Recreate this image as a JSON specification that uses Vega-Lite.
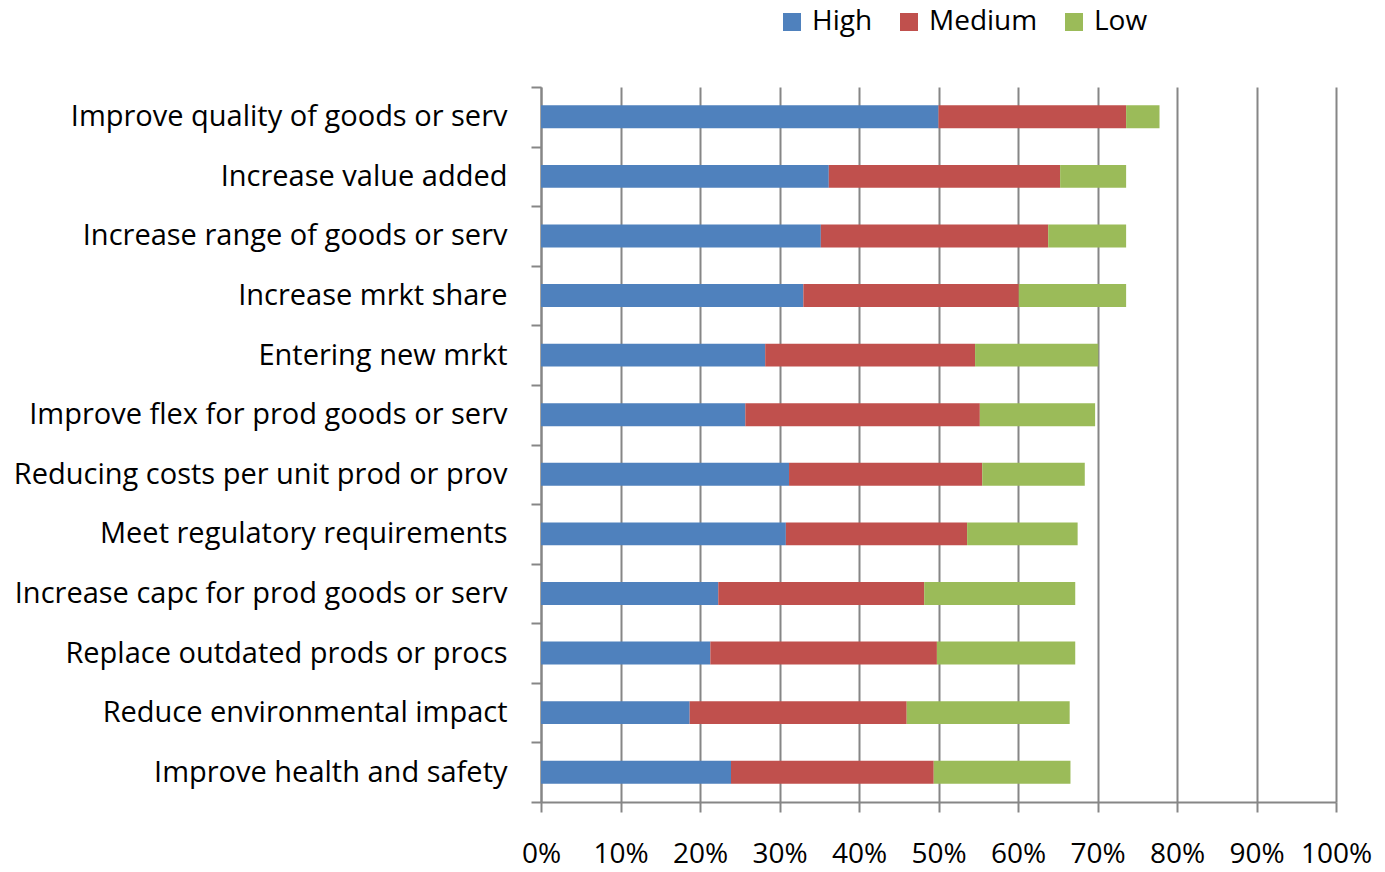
{
  "$schema": "https://vega.github.io/schema/vega-lite/v6.json",
  "autosize": "none",
  "width": 795,
  "height": 715,
  "padding": {"left": 541, "top": 87, "right": 49, "bottom": 70},
  "background": "white",
  "config": {
    "view": {"stroke": null},
    "font": "Open Sans",
    "axis": {"labelFont": "Open Sans", "labelColor": "#000000"},
    "legend": {"labelFont": "Open Sans", "labelColor": "#000000"}
  },
  "data": {
    "values": [
      {"objective": "Improve quality of goods or serv", "level": "High", "pct": 50.0},
      {"objective": "Improve quality of goods or serv", "level": "Medium", "pct": 23.6},
      {"objective": "Improve quality of goods or serv", "level": "Low", "pct": 4.2},
      {"objective": "Increase value added", "level": "High", "pct": 36.2},
      {"objective": "Increase value added", "level": "Medium", "pct": 29.1},
      {"objective": "Increase value added", "level": "Low", "pct": 8.3},
      {"objective": "Increase range of goods or serv", "level": "High", "pct": 35.2},
      {"objective": "Increase range of goods or serv", "level": "Medium", "pct": 28.6},
      {"objective": "Increase range of goods or serv", "level": "Low", "pct": 9.8},
      {"objective": "Increase mrkt share", "level": "High", "pct": 33.0},
      {"objective": "Increase mrkt share", "level": "Medium", "pct": 27.1},
      {"objective": "Increase mrkt share", "level": "Low", "pct": 13.5},
      {"objective": "Entering new mrkt", "level": "High", "pct": 28.2},
      {"objective": "Entering new mrkt", "level": "Medium", "pct": 26.4},
      {"objective": "Entering new mrkt", "level": "Low", "pct": 15.5},
      {"objective": "Improve flex for prod goods or serv", "level": "High", "pct": 25.7},
      {"objective": "Improve flex for prod goods or serv", "level": "Medium", "pct": 29.5},
      {"objective": "Improve flex for prod goods or serv", "level": "Low", "pct": 14.5},
      {"objective": "Reducing costs per unit prod or prov", "level": "High", "pct": 31.2},
      {"objective": "Reducing costs per unit prod or prov", "level": "Medium", "pct": 24.3},
      {"objective": "Reducing costs per unit prod or prov", "level": "Low", "pct": 12.9},
      {"objective": "Meet regulatory requirements", "level": "High", "pct": 30.8},
      {"objective": "Meet regulatory requirements", "level": "Medium", "pct": 22.8},
      {"objective": "Meet regulatory requirements", "level": "Low", "pct": 13.9},
      {"objective": "Increase capc for prod goods or serv", "level": "High", "pct": 22.3},
      {"objective": "Increase capc for prod goods or serv", "level": "Medium", "pct": 25.9},
      {"objective": "Increase capc for prod goods or serv", "level": "Low", "pct": 19.0},
      {"objective": "Replace outdated prods or procs", "level": "High", "pct": 21.3},
      {"objective": "Replace outdated prods or procs", "level": "Medium", "pct": 28.5},
      {"objective": "Replace outdated prods or procs", "level": "Low", "pct": 17.4},
      {"objective": "Reduce environmental impact", "level": "High", "pct": 18.7},
      {"objective": "Reduce environmental impact", "level": "Medium", "pct": 27.3},
      {"objective": "Reduce environmental impact", "level": "Low", "pct": 20.5},
      {"objective": "Improve health and safety", "level": "High", "pct": 23.9},
      {"objective": "Improve health and safety", "level": "Medium", "pct": 25.5},
      {"objective": "Improve health and safety", "level": "Low", "pct": 17.2}
    ]
  },
  "transform": [
    {"calculate": "indexof(['High', 'Medium', 'Low'], datum.level)", "as": "stackOrder"}
  ],
  "mark": {"type": "bar", "height": {"band": 0.386}},
  "encoding": {
    "y": {
      "field": "objective",
      "type": "nominal",
      "sort": null,
      "title": null,
      "scale": {"paddingInner": 0, "paddingOuter": 0},
      "axis": {
        "tickBand": "extent",
        "domainColor": "#868686",
        "domainWidth": 2,
        "tickColor": "#868686",
        "tickWidth": 2,
        "tickSize": 10,
        "labelFontSize": 29,
        "labelPadding": 24,
        "labelLimit": 0,
        "grid": false
      }
    },
    "x": {
      "field": "pct",
      "type": "quantitative",
      "stack": "zero",
      "title": null,
      "scale": {"domain": [0, 100], "nice": false},
      "axis": {
        "values": [0, 10, 20, 30, 40, 50, 60, 70, 80, 90, 100],
        "labelExpr": "datum.value + '%'",
        "grid": true,
        "gridColor": "#868686",
        "gridWidth": 2,
        "domainColor": "#868686",
        "domainWidth": 2,
        "tickColor": "#868686",
        "tickWidth": 2,
        "tickSize": 10,
        "labelFontSize": 28,
        "labelPadding": 28,
        "labelFlush": false
      }
    },
    "order": {"field": "stackOrder", "type": "quantitative"},
    "color": {
      "field": "level",
      "type": "nominal",
      "sort": ["High", "Medium", "Low"],
      "scale": {"domain": ["High", "Medium", "Low"], "range": ["#4F81BD", "#C0504D", "#9BBB59"]},
      "legend": {
        "title": null,
        "orient": "none",
        "direction": "horizontal",
        "legendX": 237,
        "legendY": -79,
        "symbolType": "square",
        "symbolSize": 324,
        "symbolStrokeWidth": 0,
        "labelFontSize": 28,
        "labelOffset": 6,
        "columnPadding": 22
      }
    }
  }
}
